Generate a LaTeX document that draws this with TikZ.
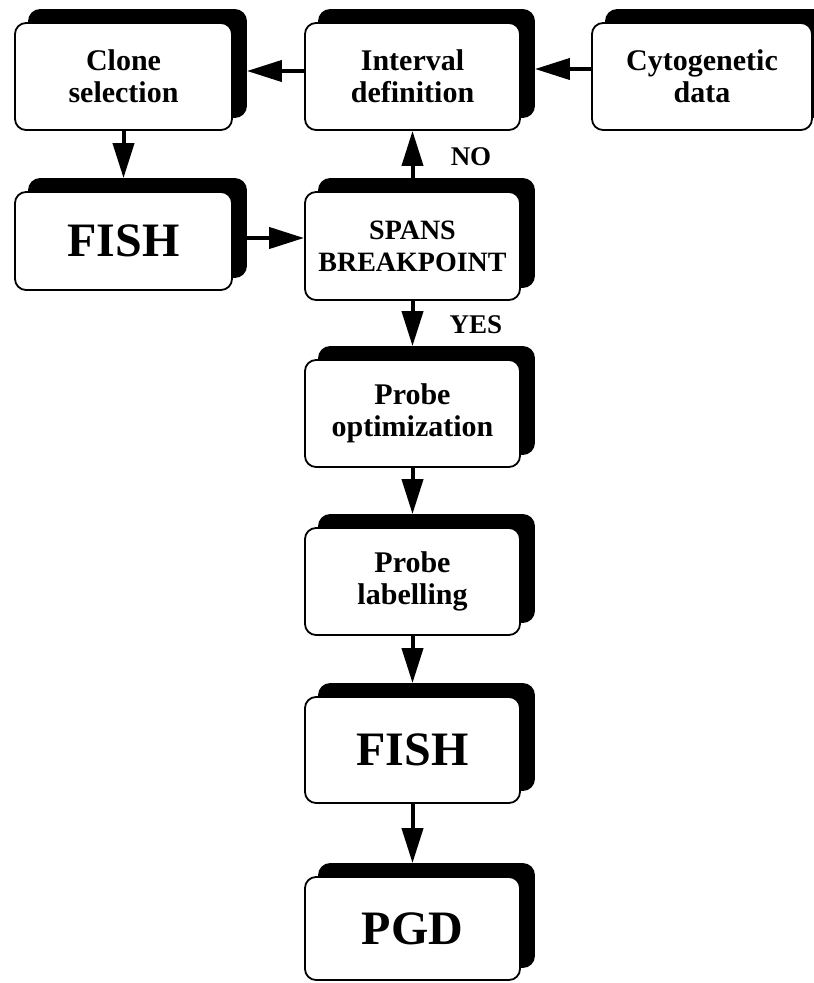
\documentclass[tikz,border=0pt]{standalone}
\usepackage{fontspec}
\setmainfont{Liberation Serif}
\usetikzlibrary{shadows,arrows.meta}
\begin{document}
\begin{tikzpicture}[x=1pt,y=-1pt,
  flowbox/.style={draw, line width=1.8pt, fill=white, rounded corners=11pt,
    minimum width=217pt, minimum height=107pt, inner sep=0pt, align=center,
    font=\bfseries\fontsize{30}{32}\selectfont,
    copy shadow={shadow xshift=14pt, shadow yshift=13pt, fill=black, draw=black, line width=1.8pt}},
  bigbox/.style={flowbox, font=\bfseries\fontsize{48}{52}\selectfont},
  arr/.style={line width=4pt, -{Triangle[length=35pt,width=21pt]}},
  lbl/.style={font=\bfseries\fontsize{27}{30}\selectfont, inner sep=0pt}]
\useasboundingbox (0,0) rectangle (814,983);
\node[flowbox] (clone) at (123.5,76.5) {Clone\\selection};
\node[flowbox, minimum width=215pt] (inter) at (412.5,76.5) {Interval\\definition};
\node[flowbox, minimum width=220pt] (cyto) at (702,76.5) {Cytogenetic\\data};
\node[bigbox, minimum height=98pt] (fish1) at (123.5,241) {FISH};
\node[flowbox, minimum width=215pt, minimum height=108pt, font=\bfseries\fontsize{28}{32}\selectfont] (spans) at (412.5,246) {SPANS\\BREAKPOINT};
\node[flowbox, minimum width=215pt] (popt) at (412.5,413.5) {Probe\\optimization};
\node[flowbox, minimum width=215pt] (plab) at (412.5,581.5) {Probe\\labelling};
\node[bigbox, minimum width=215pt, minimum height=106pt] (fish2) at (412.5,750) {FISH};
\node[bigbox, minimum width=215pt, minimum height=103pt] (pgd) at (412.5,928.5) {PGD};
\draw[arr] (inter.west |- 0,71) -- ([xshift=14pt]clone.east |- 0,71);
\draw[arr] (cyto.west |- 0,69) -- ([xshift=14pt]inter.east |- 0,69);
\draw[arr] (clone.south) -- ([yshift=13pt]fish1.north);
\draw[arr] ([xshift=14pt]fish1.east |- 0,238) -- (spans.west |- 0,238);
\draw[arr] ([yshift=13pt]spans.north) -- (inter.south);
\draw[arr] (spans.south) -- ([yshift=13pt]popt.north);
\draw[arr] (popt.south) -- ([yshift=13pt]plab.north);
\draw[arr] (plab.south) -- ([yshift=13pt]fish2.north);
\draw[arr] (fish2.south) -- ([yshift=13pt]pgd.north);
\node[lbl] (no) at (471,157) {NO};
\node[lbl] (yes) at (476,325) {YES};
\end{tikzpicture}
\end{document}
